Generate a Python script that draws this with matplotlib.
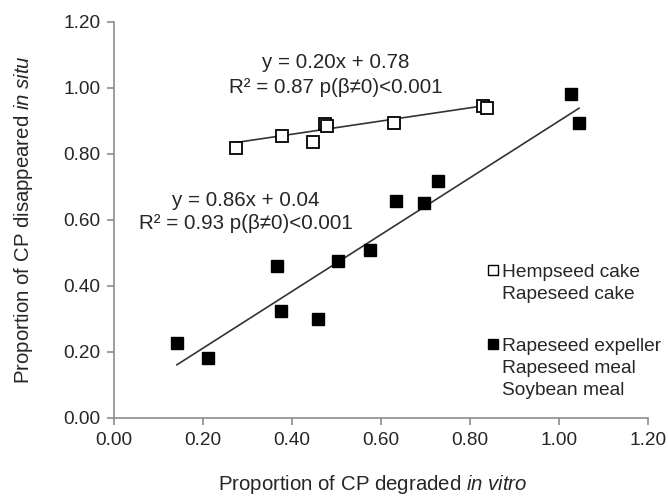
import matplotlib
matplotlib.use("Agg")
import matplotlib.pyplot as plt
from matplotlib.lines import Line2D
import numpy as np

plt.rcParams['font.family'] = ['Liberation Sans', 'DejaVu Sans']
plt.rcParams['mathtext.fontset'] = 'custom'
plt.rcParams['mathtext.rm'] = 'Liberation Sans'
plt.rcParams['mathtext.it'] = 'Liberation Sans:italic'

# Hempseed cake / Rapeseed cake (open squares)
cake_x = [0.273, 0.377, 0.447, 0.475, 0.478, 0.630, 0.830, 0.838]
cake_y = [0.817, 0.855, 0.837, 0.891, 0.886, 0.893, 0.946, 0.938]
cake_slope, cake_int = 0.20, 0.78

# Rapeseed expeller / Rapeseed meal / Soybean meal (filled squares)
meal_x = [0.141, 0.211, 0.366, 0.375, 0.459, 0.504, 0.575, 0.634, 0.697, 0.727, 1.028, 1.045]
meal_y = [0.228, 0.183, 0.461, 0.325, 0.301, 0.477, 0.509, 0.659, 0.651, 0.718, 0.981, 0.893]
meal_slope, meal_int = 0.86, 0.04

ticks = [0.0, 0.2, 0.4, 0.6, 0.8, 1.0, 1.2]
tick_labels = ["0.00", "0.20", "0.40", "0.60", "0.80", "1.00", "1.20"]

txt = '#262626'
grey = '#8c8c8c'

fig = plt.figure(figsize=(6.68, 5.0), dpi=100)
ax = fig.add_axes([0.171, 0.164, 0.799, 0.792])

# trend lines
xc = np.array([min(cake_x), max(cake_x)])
ax.plot(xc, cake_slope * xc + cake_int, color='#333333', lw=1.2, zorder=2)
xm = np.array([min(meal_x), max(meal_x)])
ax.plot(xm, meal_slope * xm + meal_int, color='#333333', lw=1.2, zorder=2)

ax.plot(cake_x, cake_y, ls='none', marker='s', ms=8, mfc='white', mec='black', mew=1.3, zorder=3)
ax.plot(meal_x, meal_y, ls='none', marker='s', ms=8.5, mfc='black', mec='black', zorder=3)

ax.set_xlim(0, 1.2)
ax.set_ylim(0, 1.2)
ax.set_xticks(ticks)
ax.set_xticklabels(tick_labels)
ax.set_yticks(ticks)
ax.set_yticklabels(tick_labels)
for s in ['top', 'right']:
    ax.spines[s].set_visible(False)
for s in ['left', 'bottom']:
    ax.spines[s].set_color(grey)
    ax.spines[s].set_linewidth(1.2)
ax.tick_params(axis='both', direction='out', length=5, width=1.2, color=grey,
               labelsize=13.7, labelcolor=txt, pad=5)

ax.set_xlabel(r'Proportion of CP degraded $\it{in\ vitro}$', fontsize=14.7, color=txt, labelpad=17)
ax.set_ylabel(r'Proportion of CP disappeared $\it{in\ situ}$', fontsize=14.7, color=txt, labelpad=20)
ax.xaxis.label.set_x(0.485)

# equations
ax.text(0.499, 1.076, 'y = 0.20x + 0.78', fontsize=14.8, color=txt, ha='center', va='center')
ax.text(0.499, 1.003, 'R² = 0.87 p(β≠0)<0.001', fontsize=14.8, color=txt, ha='center', va='center')
ax.text(0.295, 0.658, 'y = 0.86x + 0.04', fontsize=14.8, color=txt, ha='center', va='center')
ax.text(0.295, 0.588, 'R² = 0.93 p(β≠0)<0.001', fontsize=14.8, color=txt, ha='center', va='center')

# legend
empty = Line2D([], [], ls='none', marker='none')
h_open = Line2D([], [], ls='none', marker='s', ms=7, mfc='white', mec='black', mew=1.0)
h_fill = Line2D([], [], ls='none', marker='s', ms=7, mfc='black', mec='black')
handles = [h_open, empty, empty, h_fill, empty, empty]
labels = ['Hempseed cake', 'Rapeseed cake', ' ', 'Rapeseed expeller', 'Rapeseed meal', 'Soybean meal']
leg = ax.legend(handles, labels, loc='upper left', bbox_to_anchor=(0.684, 0.41),
                frameon=False, fontsize=13.8, handlelength=0.6, handletextpad=0.2,
                labelspacing=0.26, borderaxespad=0)
for t in leg.get_texts():
    t.set_color(txt)
leg.get_texts()[2].set_fontsize(18.5)

fig.savefig('out.png', dpi=100)
